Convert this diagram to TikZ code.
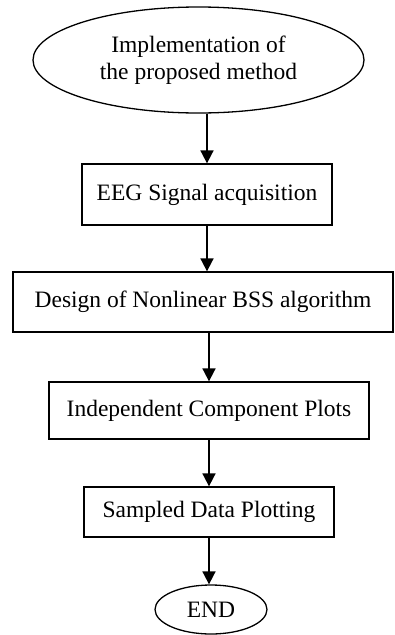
\documentclass[tikz,border=0pt]{standalone}
\usepackage{fontspec}
\setmainfont{Liberation Serif}
\usetikzlibrary{shapes.geometric,arrows.meta}
\begin{document}
\begin{tikzpicture}[x=1pt,y=-1pt,
  every node/.style={font=\fontsize{23.5}{27}\selectfont, inner sep=0pt, align=center},
  procbox/.style={draw, line width=1.3pt, rectangle},
  termnode/.style={draw, line width=1.3pt, ellipse},
  arr/.style={line width=1.8pt, -{Triangle[length=13pt,width=13pt]}}]
\useasboundingbox (0,0) rectangle (394,635);
\node[termnode, minimum width=331pt, minimum height=106pt] (start) at (198.5,60) {Implementation of\\the proposed method};
\node[procbox, minimum width=250pt, minimum height=61pt] (b1) at (207,194.5) {EEG Signal acquisition};
\node[procbox, minimum width=380pt, minimum height=60pt] (b2) at (203,302) {Design of Nonlinear BSS algorithm};
\node[procbox, minimum width=320pt, minimum height=57pt] (b3) at (209,410.5) {Independent Component Plots};
\node[procbox, minimum width=250pt, minimum height=50pt] (b4) at (209,512) {Sampled Data Plotting};
\node[termnode, minimum width=112pt, minimum height=49pt] (end) at (211,609.5) {END};
\draw[arr] (b1.north |- start.south) -- (b1.north);
\draw[arr] (b1.south) -- (b1.south |- b2.north);
\draw[arr] (b3.north |- b2.south) -- (b3.north);
\draw[arr] (b3.south) -- (b4.north);
\draw[arr] (b4.south) -- (b4.south |- end.north);
\end{tikzpicture}
\end{document}
